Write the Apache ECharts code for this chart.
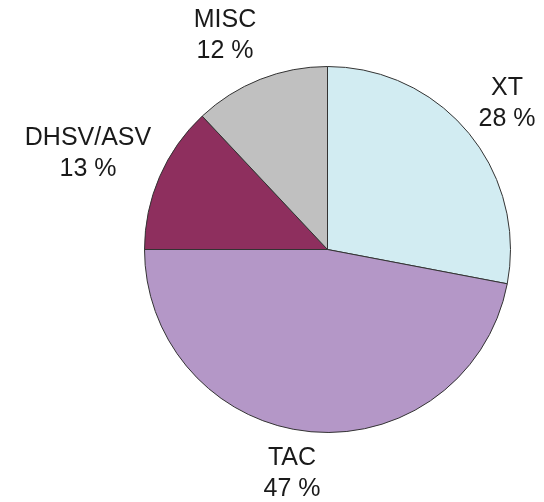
<!DOCTYPE html>
<html>
<head>
<meta charset="utf-8">
<script src="https://cdn.jsdelivr.net/npm/echarts@6/dist/echarts.min.js"></script>
<style>
  html, body { margin: 0; padding: 0; background: #fff; }
  #chart-div { width: 544px; height: 502px; }
</style>
</head>
<body>
<div id="chart-div"></div>
<script>
// osuudet (%), myötäpäivään klo 12:sta
const categories = ['XT', 'TAC', 'DHSV/ASV', 'MISC']
const shares = [28, 47, 13, 12]
const colors = ['#d2ecf2', '#b497c7', '#8e2f5e', '#c0c0c0']

// tekstien keskipisteet
const labelAt = [[507, 104], [292, 474], [88, 154], [225, 36]]

let myChart = echarts.init(document.getElementById('chart-div'))

const option = {
    animation: false,
    series: [{
        type: 'pie',
        center: [327.5, 249.5],
        radius: 183,
        startAngle: 90,
        clockwise: true,
        avoidLabelOverlap: false,
        data: categories.map((c, i) => ({
            name: c,
            value: shares[i],
            itemStyle: { color: colors[i] }
        })),
        itemStyle: { borderColor: '#333', borderWidth: 1 },
        label: {
            show: true,
            position: 'outside',
            formatter: p => p.name + '\n' + p.value + ' %',
            fontFamily: 'Liberation Sans, Arial, sans-serif',
            fontSize: 25,
            lineHeight: 31,
            color: '#1a1a1a',
            align: 'center',
            overflow: 'none'
        },
        labelLine: { show: false },
        labelLayout: p => ({
            x: labelAt[p.dataIndex][0],
            y: labelAt[p.dataIndex][1],
            align: 'center',
            verticalAlign: 'middle',
            width: 200
        }),
        emphasis: { disabled: true }
    }]
}

myChart.setOption(option)
</script>
</body>
</html>
